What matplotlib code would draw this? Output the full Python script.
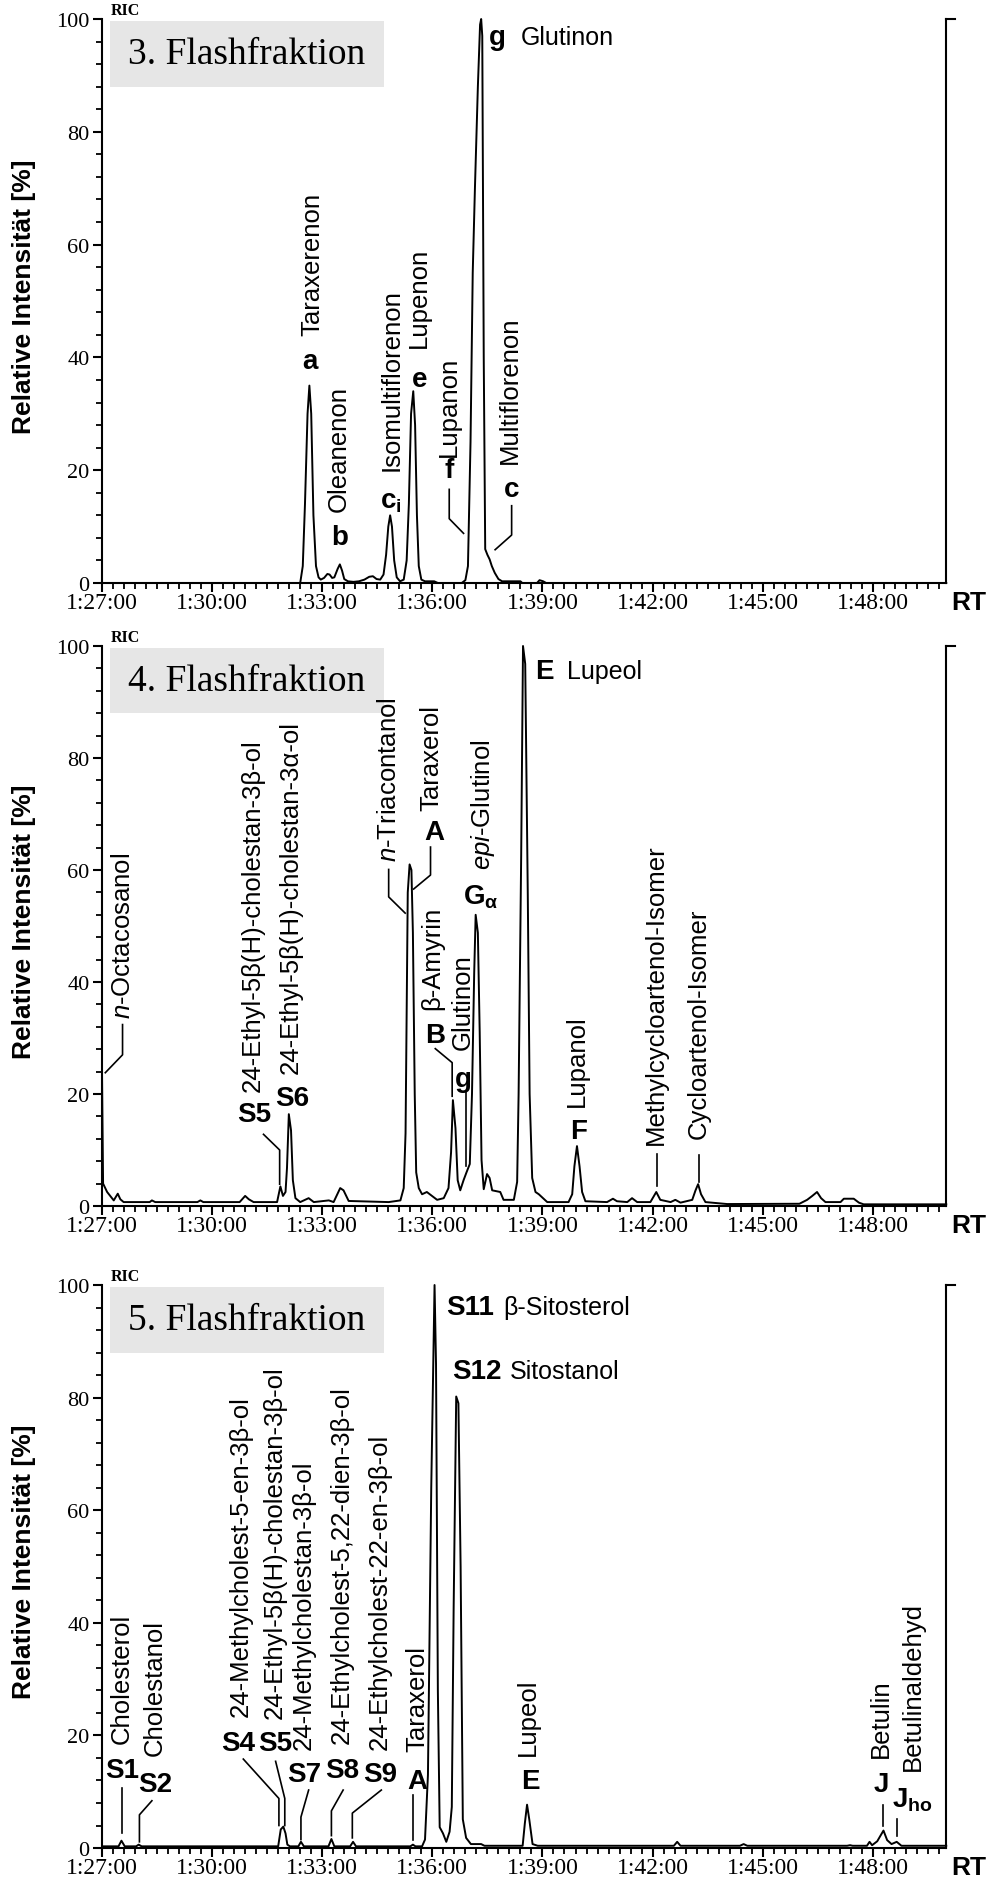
import numpy as np
import matplotlib
matplotlib.use('Agg')
import matplotlib.pyplot as plt
import matplotlib.transforms as mtransforms
from matplotlib.patches import Rectangle
from matplotlib.ticker import FixedLocator, MultipleLocator, FuncFormatter

plt.rcParams['font.family'] = ['Liberation Serif', 'DejaVu Serif']
plt.rcParams['mathtext.fontset'] = 'custom'
plt.rcParams['mathtext.rm'] = 'Liberation Sans'
plt.rcParams['mathtext.it'] = 'Liberation Sans:italic'
plt.rcParams['mathtext.bf'] = 'Liberation Sans:bold'

SANS = ['Liberation Sans', 'DejaVu Sans']

# ---- 3. Flashfraktion: retention time [min], relative intensity [%]
rt_f3 = [87.00, 92.40, 92.47, 92.53, 92.60, 92.65, 92.70, 92.76, 92.83, 92.90, 92.96,
         93.05, 93.14, 93.20, 93.27, 93.33, 93.42, 93.48, 93.54, 93.60, 93.70, 93.85,
         94.00, 94.15, 94.28, 94.38, 94.48, 94.58, 94.67, 94.74, 94.80, 94.85, 94.90,
         94.96, 95.03, 95.12, 95.22, 95.30, 95.36, 95.42, 95.48, 95.53, 95.58, 95.63,
         95.70, 95.80, 96.05, 96.15, 96.80, 96.90, 96.97, 97.04, 97.10, 97.16, 97.24,
         97.30, 97.33, 97.36, 97.40, 97.44, 97.50, 97.56, 97.62, 97.70, 97.80, 97.90,
         98.40, 98.45, 98.85, 98.92, 99.02, 99.10, 110.0]
ric_f3 = [0, 0, 3, 14, 30, 35, 30, 12, 3, 1.0, 0.6,
          0.9, 1.6, 1.5, 0.9, 1.0, 2.5, 3.3, 2.2, 0.7, 0.3, 0.2,
          0.3, 0.6, 1.1, 1.2, 0.7, 0.6, 1.5, 5, 10, 12, 10,
          4, 1.0, 0.3, 0.6, 4, 14, 30, 34, 28, 12, 3,
          0.6, 0.3, 0.3, 0, 0, 0.5, 3, 25, 55, 70, 88,
          99, 100, 97, 40, 6, 5, 4.2, 3, 1.8, 0.7, 0.3,
          0.3, 0, 0, 0.5, 0.3, 0, 0]

names_f3 = [('Taraxerenon', 92.73, 44.0), ('Oleanenon', 93.44, 12.7),
            ('Isomultiflorenon', 94.89, 20.1), ('Lupenon', 95.64, 41.9),
            ('Lupanon', 96.46, 22.6), ('Multiflorenon', 98.12, 21.2)]
codes_f3 = [('a', 92.67, 39.3), ('b', 93.47, 8.2), ('e', 95.64, 36.2),
            ('f', 96.46, 20.0), ('c', 98.16, 16.6)]
subcodes_f3 = [(r'$\mathbf{c}_{\mathbf{i}}$', 94.58, 13.4)]
side_f3 = [('g', 97.55, 'Glutinon', 98.42, 95.5)]
leaders_f3 = [[(96.46, 16.6), (96.46, 11.4), (96.85, 8.8)],
              [(98.16, 13.7), (98.16, 8.5), (97.71, 5.9)]]

# ---- 4. Flashfraktion
rt_f4 = [87.00, 87.03, 87.14, 87.32, 87.43, 87.50, 87.59, 88.30, 88.36, 88.45, 89.60,
         89.68, 89.76, 90.75, 90.90, 91.00, 91.13, 91.77, 91.86, 91.93, 92.00, 92.04,
         92.09, 92.15, 92.20, 92.27, 92.40, 92.63, 92.77, 93.18, 93.31, 93.49, 93.58,
         93.72, 94.81, 95.13, 95.22, 95.27, 95.33, 95.38, 95.43, 95.47, 95.52, 95.56,
         95.63, 95.72, 95.85, 95.99, 96.13, 96.31, 96.44, 96.51, 96.56, 96.63, 96.69,
         96.76, 96.85, 96.93, 97.02, 97.08, 97.14, 97.18, 97.24, 97.29, 97.34, 97.40,
         97.49, 97.56, 97.63, 97.85, 97.94, 98.22, 98.31, 98.35, 98.42, 98.47, 98.53,
         98.60, 98.65, 98.72, 98.81, 98.90, 99.13, 99.71, 99.81, 99.87, 99.94, 100.01,
         100.08, 100.17, 100.76, 100.92, 101.03, 101.31, 101.44, 101.58, 101.94, 102.10,
         102.21, 102.49, 102.62, 102.76, 103.08, 103.17, 103.24, 103.32, 103.44, 104.03,
         106.00, 106.21, 106.35, 106.48, 106.59, 106.71, 107.12, 107.21, 107.48, 107.62,
         107.75, 110.0]
ric_f4 = [24, 4, 2.5, 1.0, 2.2, 1.2, 0.7, 0.7, 1.0, 0.7, 0.7,
          1.0, 0.7, 0.7, 1.8, 1.2, 0.7, 0.7, 3.5, 1.8, 2.5, 6.8,
          16.4, 13.5, 4.6, 1.4, 0.7, 1.4, 0.7, 1.0, 0.7, 3.2, 2.8,
          0.9, 0.7, 1.0, 3.2, 13, 56, 61, 60, 48.8, 20, 6,
          3.2, 2.1, 2.5, 1.8, 1.1, 1.4, 3.2, 9.6, 18.9, 13.9, 4.6,
          2.8, 4.6, 6, 7.5, 20, 41.6, 52, 48.8, 31, 8.2, 3,
          5.7, 5, 2.8, 2.5, 1.1, 1.1, 4.3, 20, 62.6, 100, 96.8,
          55.5, 20, 5, 2.5, 2.1, 0.7, 0.7, 2.1, 7.1, 10.7, 7.1,
          2.5, 0.85, 0.7, 1.3, 0.85, 0.7, 1.4, 0.7, 0.7, 2.5,
          1.1, 0.7, 1.1, 0.6, 1.1, 2.8, 3.9, 2.1, 0.7, 0.35,
          0.4, 1.1, 1.8, 2.5, 1.4, 0.7, 0.7, 1.3, 1.3, 0.6,
          0.3, 0.3]

names_f4 = [(r'$n$-Octacosanol', 87.56, 33.5),
            ('24-Ethyl-5β(H)-cholestan-3β-ol', 91.10, 20.6),
            ('24-Ethyl-5β(H)-cholestan-3α-ol', 92.13, 23.8),
            (r'$n$-Triacontanol', 94.81, 61.6), ('Taraxerol', 95.96, 70.8),
            ('β-Amyrin', 96.01, 35.2), ('Glutinon', 96.83, 28.1),
            (r'$epi$-Glutinol', 97.38, 60.1), ('Lupanol', 99.94, 17.8),
            ('Methylcycloartenol-Isomer', 102.10, 11.0),
            ('Cycloartenol-Isomer', 103.26, 12.1)]
codes_f4 = [('S5', 91.15, 16.4), ('S6', 92.18, 19.2), ('A', 96.04, 66.8),
            ('B', 96.08, 30.6), ('g', 96.85, 22.6), ('F', 99.99, 13.4)]
subcodes_f4 = [(r'$\mathbf{G}_{\mathbf{\alpha}}$', 96.84, 54.1)]
side_f4 = [('E', 98.81, 'Lupeol', 99.67, 94.3)]
leaders_f4 = [[(87.56, 32.4), (87.56, 27.0), (87.09, 23.8)],
              [(91.40, 12.8), (91.84, 10.0), (91.84, 3.9)],
              [(94.81, 60.1), (94.81, 55.2), (95.26, 52.3)],
              [(95.95, 64.1), (95.95, 59.1), (95.49, 56.6)],
              [(96.08, 28.1), (96.54, 25.6), (96.54, 19.6)],
              [(96.93, 20.3), (96.93, 7.1)],
              [(102.12, 9.3), (102.12, 3.6)],
              [(103.26, 9.1), (103.26, 4.3)]]

# ---- 5. Flashfraktion
rt_f5 = [87.00, 87.45, 87.53, 87.62, 87.93, 88.00, 88.08, 91.80, 91.87, 91.94, 92.00,
         92.05, 92.12, 92.35, 92.42, 92.50, 93.17, 93.25, 93.33, 93.76, 93.84, 93.92,
         95.40, 95.47, 95.54, 95.72, 95.80, 95.88, 95.97, 96.06, 96.10, 96.15, 96.20,
         96.29, 96.38, 96.47, 96.53, 96.58, 96.65, 96.71, 96.77, 96.83, 96.92, 97.05,
         97.33, 97.42, 98.46, 98.52, 98.58, 98.64, 98.73, 98.87, 102.58, 102.67, 102.76,
         104.38, 104.48, 104.58, 107.30, 107.38, 107.45, 107.84, 107.91, 107.98, 108.12,
         108.20, 108.29, 108.39, 108.51, 108.65, 108.78, 110.0]
ric_f5 = [0.3, 0.3, 1.3, 0.3, 0.3, 0.6, 0.3, 0.3, 3.3, 3.8, 2.6,
          0.6, 0.3, 0.3, 1.1, 0.3, 0.3, 1.6, 0.3, 0.3, 1.1, 0.3,
          0.3, 0.6, 0.3, 0.3, 1.5, 13, 64, 100, 86, 28, 3.7,
          2.6, 1.1, 2.9, 7.3, 42.5, 80.2, 79, 50, 5.1, 1.8, 0.7,
          0.7, 0.4, 0.4, 4.4, 7.7, 5.1, 0.7, 0.4, 0.4, 1.1, 0.4,
          0.4, 0.7, 0.4, 0.4, 0.5, 0.4, 0.4, 1.1, 0.5, 1.2,
          2.1, 3.1, 1.4, 0.7, 1.1, 0.4, 0.4]

names_f5 = [('Cholesterol', 87.54, 18.7), ('Cholestanol', 88.45, 16.5),
            ('24-Methylcholest-5-en-3β-ol', 90.78, 23.4),
            ('24-Ethyl-5β(H)-cholestan-3β-ol', 91.71, 23.1),
            ('24-Methylcholestan-3β-ol', 92.50, 17.6),
            ('24-Ethylcholest-5,22-dien-3β-ol', 93.54, 18.7),
            ('24-Ethylcholest-22-en-3β-ol', 94.58, 17.6),
            ('Taraxerol', 95.60, 17.2), ('Lupeol', 98.61, 16.5),
            ('Betulin', 108.21, 16.1), ('Betulinaldehyd', 109.10, 13.9)]
codes_f5 = [('S1', 87.54, 13.9), ('S2', 88.45, 11.4), ('S4', 90.71, 18.7),
            ('S5', 91.71, 18.7), ('S7', 92.52, 13.2), ('S8', 93.54, 13.9),
            ('S9', 94.58, 13.2), ('A', 95.60, 11.9), ('E', 98.66, 11.9),
            ('J', 108.24, 11.4)]
subcodes_f5 = [(r'$\mathbf{J}_{\mathbf{ho}}$', 108.51, 7.3)]
side_f5 = [('S11', 96.38, 'β-Sitosterol', 97.92, 94.9),
           ('S12', 96.55, 'Sitostanol', 98.10, 83.5)]
leaders_f5 = [[(87.54, 10.6), (87.54, 2.6)],
              [(88.36, 8.4), (88.02, 5.9), (88.02, 1.1)],
              [(90.85, 15.8), (91.82, 8.8), (91.82, 4.0)],
              [(91.73, 15.4), (91.98, 8.8), (91.98, 4.0)],
              [(92.63, 10.3), (92.42, 5.5), (92.42, 1.5)],
              [(93.57, 10.3), (93.25, 6.6), (93.25, 2.2)],
              [(94.61, 10.3), (93.82, 6.2), (93.82, 1.8)],
              [(95.47, 9.5), (95.47, 1.5)],
              [(108.29, 7.7), (108.29, 4.0)],
              [(108.65, 5.1), (108.65, 2.2)]]

major_rt = [87, 90, 93, 96, 99, 102, 105, 108]


def rt_label(v, pos):
    v = int(round(v))
    return f"{v // 60}:{v % 60:02d}:00"


def draw_panel(ax, rt, ric, title, names, codes, subcodes, side, leaders):
    ax.add_patch(Rectangle((87.22, 88.0), 7.46, 11.7, facecolor='#e6e6e6',
                           edgecolor='none', zorder=0))
    ax.text(90.95, 93.8, title, ha='center', va='center', fontsize=27, zorder=1)
    ax.plot(rt, ric, color='black', lw=1.4, zorder=3, clip_on=False)

    for txt, x, y in names:
        ax.text(x, y, txt, rotation=90, ha='center', va='bottom', fontsize=18.5, family=SANS)
    for txt, x, y in codes:
        ax.text(x, y, txt, ha='center', va='center', fontsize=20,
                fontweight='bold', family=SANS)
    for txt, x, y in subcodes:
        ax.text(x, y, txt, ha='left', va='baseline', fontsize=20, family=SANS)
    for code, xc, name, xn, y in side:
        ax.text(xc, y, code, ha='left', va='baseline', fontsize=20,
                fontweight='bold', family=SANS)
        ax.text(xn, y, name, ha='left', va='baseline', fontsize=18, family=SANS)
    for pts in leaders:
        xs, ys = zip(*pts)
        ax.plot(xs, ys, color='black', lw=1.2)

    ax.set_xlim(87, 110)
    ax.set_ylim(0, 100)
    ax.spines['top'].set_visible(False)
    for s in ['left', 'bottom', 'right']:
        ax.spines[s].set_linewidth(1.5)
    ax.plot([110, 110.25], [100, 100], color='black', lw=1.5, clip_on=False)

    ax.xaxis.set_major_locator(FixedLocator(major_rt))
    ax.xaxis.set_minor_locator(FixedLocator(np.arange(87, 110.01, 0.3)))
    ax.xaxis.set_major_formatter(FuncFormatter(rt_label))
    ax.yaxis.set_major_locator(MultipleLocator(20))
    ax.yaxis.set_minor_locator(MultipleLocator(4))
    ax.tick_params(which='major', direction='out', length=6.5, width=1.5)
    ax.tick_params(which='minor', direction='out', length=4.5, width=1.3)
    ax.tick_params(axis='x', labelsize=17, pad=0.3)
    ax.tick_params(axis='y', labelsize=16, pad=2.5)

    ax.text(87.25, 100.2, 'RIC', ha='left', va='bottom', fontsize=11.5,
            fontweight='bold', clip_on=False)
    off = mtransforms.ScaledTranslation(0.05, -0.19, fig.dpi_scale_trans)
    ax.text(1.0, 0.0, 'RT', transform=ax.transAxes + off, ha='left', va='center',
            fontsize=19, fontweight='bold', family=SANS)
    off_y = mtransforms.ScaledTranslation(-0.78, 0, fig.dpi_scale_trans)
    ax.text(0.0, 0.51, 'Relative Intensität [%]', transform=ax.transAxes + off_y,
            rotation=90, ha='center', va='center', fontsize=19,
            fontweight='bold', family=SANS)


fig = plt.figure(figsize=(9.95, 18.81), dpi=100)
ax3 = fig.add_axes([0.1025, 0.68953, 0.8485, 0.29984])
ax4 = fig.add_axes([0.1025, 0.35832, 0.8485, 0.29771])
ax5 = fig.add_axes([0.1025, 0.0170, 0.8485, 0.29931])

draw_panel(ax3, rt_f3, ric_f3, '3. Flashfraktion', names_f3, codes_f3,
           subcodes_f3, side_f3, leaders_f3)
draw_panel(ax4, rt_f4, ric_f4, '4. Flashfraktion', names_f4, codes_f4,
           subcodes_f4, side_f4, leaders_f4)
draw_panel(ax5, rt_f5, ric_f5, '5. Flashfraktion', names_f5, codes_f5,
           subcodes_f5, side_f5, leaders_f5)

fig.savefig('out.png', dpi=100)
